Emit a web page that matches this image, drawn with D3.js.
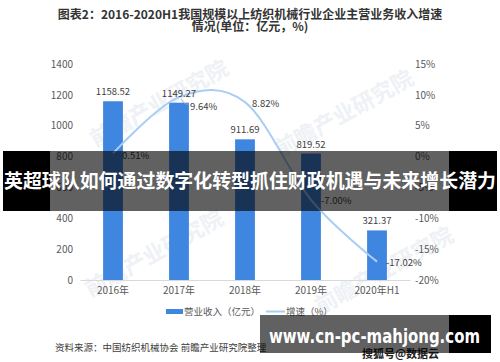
<!DOCTYPE html>
<html><head><meta charset="utf-8">
<script src="https://cdn.jsdelivr.net/npm/d3@7"></script>
<style>html,body{margin:0;padding:0;background:#fff;}svg{display:block;}</style>
</head><body>
<script>
const categories = ["2016年","2017年","2018年","2019年","2020年H1"];
const revenue = [1158.52, 1149.27, 911.69, 819.52, 321.37];
const growth = [0.51, 9.64, 8.82, -7.00, -17.02];
const leftTicks = [0,200,400,600,800,1000,1200,1400];
const rightTicks = [-20,-15,-10,-5,0,5,10,15];
const titleLines = ["图表2：2016-2020H1我国规模以上纺织机械行业企业主营业务收入增速","情况(单位：亿元，%)"];
const legendLabels = ["营业收入（亿元）","增速（%）"];
const sourceText = "资料来源：中国纺织机械协会 前瞻产业研究院整理";
const bannerText = "英超球队如何通过数字化转型抓住财政机遇与未来增长潜力";
const urlText = "www.cn-pc-mahjong.com";

const W=500,H=362;
const font = "'Noto Sans CJK SC','Noto Sans',sans-serif";
const svg = d3.select("body").append("svg").attr("width",W).attr("height",H).style("font-family",font);
svg.append("rect").attr("width",W).attr("height",H).attr("fill","#fff");

const x = d3.scaleBand().domain(categories).range([80,410]).paddingInner(0.7).paddingOuter(0.35);
const yL = d3.scaleLinear().domain([0,1400]).range([280,64]);
const yR = d3.scaleLinear().domain([-20,15]).range([280,64]);

// watermarks
const wm = [[160,105],[345,115],[155,255],[385,272]];
wm.forEach(([cx,cy])=>{
  svg.append("text").attr("transform",`translate(${cx},${cy}) rotate(-29)`).attr("text-anchor","middle")
    .attr("dominant-baseline","middle").attr("font-size",22).attr("font-weight","bold")
    .attr("fill","#eef1f5").text("前瞻产业研究院");
});

// title
titleLines.forEach((t,i)=>{
  svg.append("text").attr("x",250).attr("y",19+i*12).attr("text-anchor","middle")
    .attr("font-size",12).attr("font-weight","bold").attr("fill","#333").text(t);
});

// axes
const gL = svg.append("g").attr("transform","translate(73,0)")
  .call(d3.axisLeft(yL).tickValues(leftTicks).tickSize(0).tickPadding(0).tickFormat(d3.format("d")));
gL.select(".domain").remove();
const gR = svg.append("g").attr("transform","translate(415,0)")
  .call(d3.axisRight(yR).tickValues(rightTicks).tickSize(0).tickPadding(0).tickFormat(d=>d+"%"));
gR.select(".domain").remove();
const gX = svg.append("g").attr("transform","translate(0,280)")
  .call(d3.axisBottom(x).tickSize(0).tickPadding(7));
gX.select(".domain").attr("stroke","#d9d9d9");
svg.selectAll(".tick text").attr("font-size",10).attr("fill","#595959").attr("font-family",font);

// bars
svg.selectAll("rect.bar").data(revenue).join("rect").attr("class","bar")
  .attr("x",(d,i)=>x(categories[i])).attr("width",x.bandwidth())
  .attr("y",d=>yL(d)).attr("height",d=>280-yL(d)).attr("fill","#3f86e0");

// line
const line = d3.line().x((d,i)=>x(categories[i])+x.bandwidth()/2).y(d=>yR(d)).curve(d3.curveCatmullRom.alpha(0));
svg.append("path").datum(growth).attr("d",line).attr("fill","none").attr("stroke","#a9cdf5").attr("stroke-width",2);

// bar labels
svg.selectAll("text.bl").data(revenue).join("text").attr("class","bl")
  .attr("x",(d,i)=>x(categories[i])+x.bandwidth()/2).attr("y",d=>yL(d)-6)
  .attr("text-anchor","middle").attr("font-size",9.5).attr("fill","#404040").text(d=>d.toFixed(2));

// growth labels
const gOff = [[9,5],[11,11],[7,2],[10,-2],[9,4]];
const gDy = [4,9,-1,3,4];
svg.selectAll("text.gl").data(growth).join("text").attr("class","gl")
  .attr("x",(d,i)=>x(categories[i])+x.bandwidth()/2+gOff[i][0])
  .attr("y",(d,i)=>[155,106,103,200,262][i]+3.5)
  .attr("font-size",9.5).attr("fill","#404040").text(d=>d.toFixed(2)+"%");
// leader line
svg.append("path").attr("d","M181,99 L185,104 L189,104").attr("fill","none").attr("stroke","#a6a6a6").attr("stroke-width",0.8);

// legend
svg.append("rect").attr("x",166).attr("y",309).attr("width",17).attr("height",5).attr("fill","#3f86e0");
svg.append("text").attr("x",184).attr("y",315).attr("font-size",9.5).attr("fill","#595959").text(legendLabels[0]);
svg.append("line").attr("x1",266).attr("x2",285).attr("y1",311.5).attr("y2",311.5).attr("stroke","#a9cdf5").attr("stroke-width",2);
svg.append("text").attr("x",286).attr("y",315).attr("font-size",9.5).attr("fill","#595959").text(legendLabels[1]);

// source
svg.append("text").attr("x",55).attr("y",351).attr("font-size",9.5).attr("fill","#404040").text(sourceText);
svg.append("text").attr("x",362).attr("y",358).attr("font-size",11).attr("font-weight","bold").attr("fill","#222").text("搜狐号@数据云");

// banner overlay
svg.append("rect").attr("x",3).attr("y",151).attr("width",494).attr("height",60).attr("fill","#000").attr("fill-opacity",0.62);
svg.append("rect").attr("x",3).attr("y",151).attr("width",47).attr("height",60).attr("fill","#000");
svg.append("rect").attr("x",449).attr("y",151).attr("width",48).attr("height",60).attr("fill","#000");
svg.append("text").attr("x",250).attr("y",183).attr("text-anchor","middle").attr("dominant-baseline","middle")
  .attr("font-size",19).attr("font-weight","bold").attr("fill","#fff").attr("textLength",492).attr("lengthAdjust","spacingAndGlyphs").text(bannerText);

// url overlay
svg.append("rect").attr("x",260).attr("y",315).attr("width",231).attr("height",38).attr("fill","#000").attr("fill-opacity",0.62);
svg.append("rect").attr("x",449).attr("y",315).attr("width",42).attr("height",38).attr("fill","#000");
svg.append("text").attr("x",269).attr("y",337).attr("dominant-baseline","middle")
  .attr("font-size",19).attr("font-weight","bold").attr("fill","#fff").attr("textLength",211).attr("lengthAdjust","spacingAndGlyphs").attr("font-family","'DejaVu Sans',sans-serif").text(urlText);
</script>
</body></html>
